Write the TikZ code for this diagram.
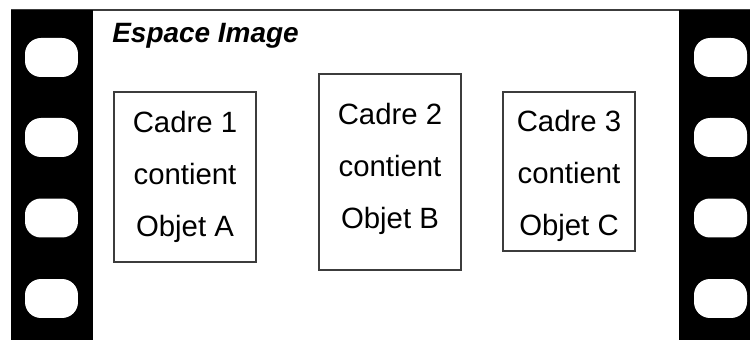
\documentclass[tikz,border=0pt]{standalone}
\usepackage{fontspec}
\setmainfont{Liberation Sans}
\usepackage{tikz}
\usetikzlibrary{positioning}
\definecolor{cfilm}{RGB}{0,0,0}
\definecolor{cline}{RGB}{60,60,60}

\begin{document}
\begin{tikzpicture}[
  x=0.02cm,y=-0.02cm,
  % film band and its sprocket holes
  bande/.style={fill=cfilm,draw=none},
  trou/.style={fill=white,draw=none,rounded corners=0.32cm,minimum width=1.06cm,minimum height=0.78cm,inner sep=0pt},
  cadre/.style={draw=cline,line width=0.6pt,inner sep=0pt},
  txt/.style={inner sep=0pt,align=center,font=\fontsize{16.7}{29.5}\selectfont},
  ttl/.style={font=\fontsize{15.9}{19}\selectfont\bfseries\itshape,inner sep=0pt},
]
\useasboundingbox (0,0) rectangle (750,340);

% =========== the strip: top edge and the two black bands ==================
\draw[cline,line width=0.9pt] (11,10) -- (750,10);
\fill[bande] (11,10) rectangle (93,340);
\fill[bande] (679,10) rectangle (750,340);
\foreach \y [count=\i] in {57.5,137.5,218,298.5}{
  \node[trou] (tg\i) at (51.5,\y) {};
  \node[trou] (td\i) at (720.5,\y) {};
}

% =========== title ========================================================
\node[ttl,anchor=base west] (titre) at (112,43) {Espace Image};

% =========== the three frames =============================================
\node[cadre,minimum width=2.84cm,minimum height=3.40cm] (c1) at (185,177) {};
\node[cadre,minimum width=2.84cm,minimum height=3.92cm] (c2) at (390,172) {};
\node[cadre,minimum width=2.64cm,minimum height=3.18cm] (c3) at (569,171.5) {};
\node[txt] (t1) at (185,177) {Cadre 1\\contient\\Objet A};
\node[txt] (t2) at (390,169) {Cadre 2\\contient\\Objet B};
\node[txt] (t3) at (569,176) {Cadre 3\\contient\\Objet C};

\end{tikzpicture}
\end{document}
